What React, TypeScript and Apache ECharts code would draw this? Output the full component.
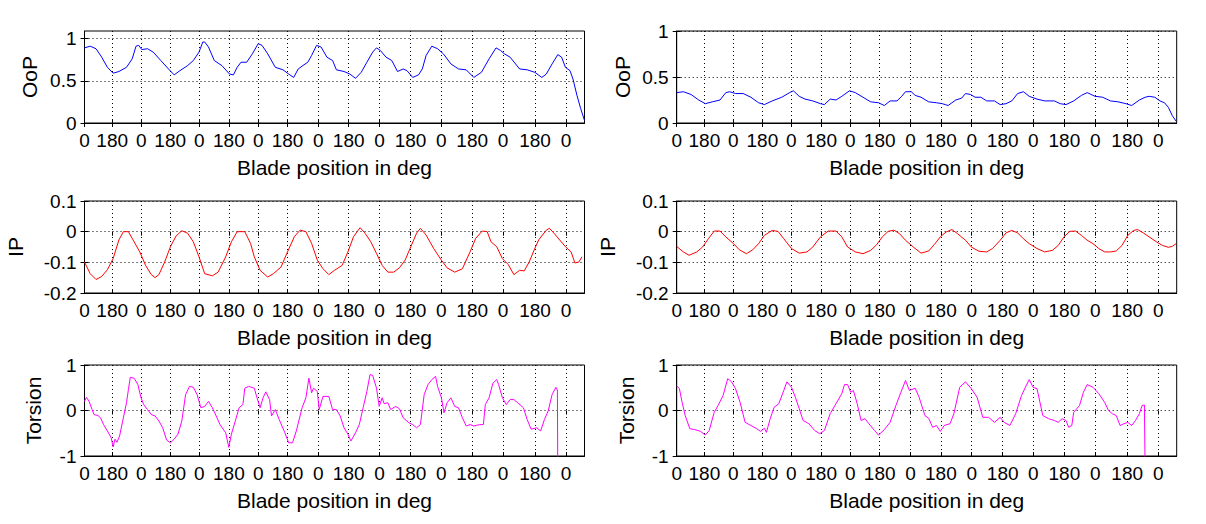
import React, { useEffect, useRef } from "react";
import * as echarts from "echarts";

// x axis: time-like sample position; ticks mark blade azimuth 0 / 180 deg
const X_MAX = 5;
const TICKS = [0, 0.277, 0.567, 0.857, 1.147, 1.444, 1.737, 2.03, 2.338, 2.642, 2.95, 3.26, 3.567, 3.877, 4.185, 4.505, 4.815];
const TICK_LABELS = ["0", "180", "0", "180", "0", "180", "0", "180", "0", "180", "0", "180", "0", "180", "0", "180", "0"];
const X_NAME = "Blade position in deg";

const OOP_TICKS = [0, 0.5, 1];
const IP_TICKS = [-0.2, -0.1, 0, 0.1];
const TOR_TICKS = [-1, 0, 1];

const OOP_LEFT: [number, number][] = [
  [0.0, 0.89], [0.057, 0.91], [0.115, 0.88], [0.172, 0.78], [0.229, 0.66], [0.286, 0.59], [0.344, 0.61], [0.42, 0.66],
  [0.477, 0.76], [0.515, 0.91], [0.542, 0.92], [0.573, 0.87], [0.63, 0.88], [0.687, 0.84], [0.763, 0.74], [0.84, 0.64],
  [0.897, 0.57], [0.954, 0.62], [1.031, 0.68], [1.088, 0.74], [1.145, 0.84], [1.183, 0.96], [1.202, 0.96], [1.24, 0.9],
  [1.298, 0.74], [1.374, 0.68], [1.45, 0.58], [1.489, 0.57], [1.527, 0.66], [1.565, 0.72], [1.622, 0.72], [1.679, 0.82],
  [1.737, 0.94], [1.775, 0.92], [1.832, 0.82], [1.908, 0.66], [1.985, 0.63], [2.042, 0.58], [2.092, 0.54], [2.137, 0.64],
  [2.195, 0.69], [2.233, 0.72], [2.271, 0.8], [2.321, 0.92], [2.366, 0.9], [2.424, 0.78], [2.481, 0.74], [2.519, 0.63],
  [2.595, 0.61], [2.653, 0.58], [2.71, 0.53], [2.767, 0.6], [2.824, 0.72], [2.882, 0.84], [2.92, 0.89], [2.958, 0.86],
  [3.015, 0.78], [3.073, 0.74], [3.13, 0.61], [3.187, 0.64], [3.225, 0.62], [3.282, 0.54], [3.34, 0.57], [3.378, 0.64],
  [3.416, 0.8], [3.473, 0.91], [3.531, 0.88], [3.588, 0.82], [3.664, 0.7], [3.74, 0.64], [3.817, 0.63], [3.893, 0.54],
  [3.969, 0.6], [4.046, 0.76], [4.115, 0.89], [4.16, 0.86], [4.198, 0.82], [4.256, 0.78], [4.351, 0.64], [4.427, 0.63],
  [4.504, 0.6], [4.573, 0.54], [4.618, 0.58], [4.676, 0.7], [4.733, 0.81], [4.771, 0.78], [4.809, 0.66], [4.855, 0.62],
  [4.885, 0.52], [4.924, 0.33], [4.962, 0.17], [5.0, 0.03],
];
const OOP_LEFT_MAX = 1.09;

const OOP_RIGHT: [number, number][] = [
  [0.0, 0.33], [0.066, 0.34], [0.143, 0.31], [0.22, 0.25], [0.286, 0.21], [0.356, 0.23], [0.433, 0.25], [0.491, 0.33],
  [0.53, 0.34], [0.588, 0.32], [0.665, 0.32], [0.742, 0.28], [0.819, 0.22], [0.877, 0.2], [0.955, 0.24], [1.051, 0.28],
  [1.129, 0.33], [1.167, 0.35], [1.225, 0.29], [1.283, 0.26], [1.361, 0.24], [1.438, 0.21], [1.477, 0.2], [1.535, 0.26],
  [1.593, 0.25], [1.651, 0.29], [1.728, 0.35], [1.786, 0.33], [1.863, 0.28], [1.94, 0.23], [2.018, 0.22], [2.076, 0.19],
  [2.134, 0.24], [2.203, 0.24], [2.25, 0.29], [2.288, 0.34], [2.346, 0.34], [2.385, 0.3], [2.443, 0.28], [2.52, 0.23],
  [2.598, 0.22], [2.656, 0.21], [2.714, 0.19], [2.791, 0.25], [2.849, 0.27], [2.888, 0.32], [2.938, 0.31], [2.984, 0.28],
  [3.042, 0.28], [3.1, 0.24], [3.177, 0.24], [3.235, 0.2], [3.293, 0.21], [3.351, 0.24], [3.409, 0.32], [3.467, 0.34],
  [3.525, 0.29], [3.603, 0.26], [3.68, 0.24], [3.777, 0.24], [3.835, 0.21], [3.893, 0.2], [3.97, 0.24], [4.047, 0.3],
  [4.105, 0.33], [4.183, 0.29], [4.26, 0.28], [4.337, 0.24], [4.414, 0.23], [4.492, 0.21], [4.55, 0.19], [4.627, 0.25],
  [4.685, 0.28], [4.724, 0.29], [4.782, 0.28], [4.832, 0.24], [4.878, 0.22], [4.917, 0.17], [4.956, 0.08], [4.994, 0.02],
];

const IP_LEFT: [number, number][] = [
  [0.0, -0.099], [0.057, -0.137], [0.115, -0.156], [0.172, -0.146], [0.229, -0.124], [0.286, -0.088], [0.344, -0.027],
  [0.389, 0.0], [0.439, 0.0], [0.496, -0.033], [0.553, -0.066], [0.611, -0.11], [0.668, -0.14], [0.706, -0.15],
  [0.744, -0.14], [0.802, -0.099], [0.859, -0.049], [0.916, -0.014], [0.973, 0.003], [1.031, -0.005], [1.088, -0.033],
  [1.145, -0.082], [1.202, -0.137], [1.279, -0.144], [1.336, -0.132], [1.412, -0.082], [1.469, -0.033], [1.527, 0.0],
  [1.603, 0.0], [1.66, -0.038], [1.698, -0.082], [1.756, -0.126], [1.832, -0.148], [1.889, -0.137], [1.966, -0.115],
  [2.023, -0.071], [2.099, -0.016], [2.156, 0.005], [2.214, 0.0], [2.271, -0.038], [2.328, -0.093], [2.385, -0.121],
  [2.443, -0.14], [2.5, -0.126], [2.576, -0.11], [2.634, -0.066], [2.691, -0.016], [2.756, 0.013], [2.805, -0.005],
  [2.863, -0.033], [2.92, -0.071], [2.977, -0.11], [3.034, -0.132], [3.092, -0.132], [3.149, -0.118], [3.206, -0.093],
  [3.263, -0.049], [3.321, -0.005], [3.359, 0.011], [3.416, -0.011], [3.492, -0.055], [3.569, -0.093], [3.626, -0.118],
  [3.702, -0.132], [3.779, -0.121], [3.855, -0.066], [3.912, -0.022], [3.977, 0.002], [4.027, 0.0], [4.065, -0.033],
  [4.122, -0.049], [4.179, -0.088], [4.237, -0.107], [4.294, -0.14], [4.351, -0.126], [4.397, -0.128], [4.447, -0.099],
  [4.496, -0.06], [4.542, -0.027], [4.618, 0.005], [4.649, 0.011], [4.695, -0.005], [4.752, -0.027], [4.809, -0.049],
  [4.866, -0.066], [4.904, -0.102], [4.943, -0.099], [4.975, -0.082],
];

const IP_RIGHT: [number, number][] = [
  [0.0, -0.048], [0.066, -0.066], [0.124, -0.077], [0.201, -0.066], [0.259, -0.05], [0.317, -0.023], [0.375, 0.002],
  [0.433, 0.002], [0.491, -0.017], [0.568, -0.039], [0.626, -0.059], [0.696, -0.072], [0.761, -0.059], [0.819, -0.039],
  [0.877, -0.012], [0.955, 0.004], [1.013, 0.001], [1.071, -0.023], [1.148, -0.055], [1.225, -0.07], [1.303, -0.066],
  [1.361, -0.05], [1.438, -0.017], [1.515, 0.002], [1.593, 0.002], [1.651, -0.017], [1.709, -0.05], [1.786, -0.066],
  [1.863, -0.072], [1.94, -0.061], [1.998, -0.043], [2.056, -0.017], [2.114, 0.001], [2.172, 0.005], [2.23, -0.007],
  [2.288, -0.028], [2.366, -0.05], [2.443, -0.07], [2.52, -0.063], [2.578, -0.041], [2.636, -0.017], [2.694, -0.001],
  [2.752, 0.007], [2.81, -0.007], [2.888, -0.028], [2.946, -0.05], [3.023, -0.064], [3.1, -0.066], [3.158, -0.055],
  [3.235, -0.028], [3.293, -0.004], [3.351, 0.004], [3.409, -0.004], [3.467, -0.023], [3.525, -0.039], [3.603, -0.055],
  [3.68, -0.066], [3.757, -0.061], [3.815, -0.045], [3.873, -0.017], [3.931, 0.001], [3.989, 0.002], [4.047, -0.012],
  [4.105, -0.028], [4.163, -0.039], [4.221, -0.055], [4.279, -0.066], [4.337, -0.066], [4.395, -0.063], [4.453, -0.045],
  [4.511, -0.012], [4.569, 0.004], [4.608, 0.007], [4.666, -0.004], [4.724, -0.017], [4.801, -0.034], [4.859, -0.045],
  [4.917, -0.051], [4.956, -0.048], [4.994, -0.039],
];

const TOR_LEFT: [number, number][] = [
  [0.0, 0.2], [0.019, 0.29], [0.046, 0.2], [0.076, 0.02], [0.095, -0.09], [0.134, -0.11], [0.16, -0.16], [0.191, -0.31],
  [0.229, -0.45], [0.267, -0.6], [0.286, -0.8], [0.305, -0.63], [0.324, -0.7], [0.351, -0.56], [0.382, -0.23], [0.42, 0.17],
  [0.439, 0.46], [0.458, 0.73], [0.496, 0.71], [0.534, 0.57], [0.565, 0.28], [0.592, 0.13], [0.63, 0.02], [0.668, -0.09],
  [0.706, -0.12], [0.744, -0.23], [0.782, -0.38], [0.821, -0.65], [0.859, -0.71], [0.897, -0.63], [0.935, -0.52],
  [0.973, -0.23], [1.011, 0.35], [1.05, 0.53], [1.088, 0.51], [1.126, 0.35], [1.164, 0.06], [1.202, 0.09], [1.24, 0.2],
  [1.279, 0.06], [1.317, -0.12], [1.355, -0.31], [1.412, -0.49], [1.443, -0.81], [1.469, -0.52], [1.508, -0.23],
  [1.546, 0.06], [1.584, 0.13], [1.603, 0.49], [1.641, 0.53], [1.698, 0.49], [1.725, 0.28], [1.756, 0.06], [1.786, 0.28],
  [1.813, 0.41], [1.851, 0.24], [1.87, -0.12], [1.908, 0.02], [1.947, -0.2], [2.004, -0.49], [2.042, -0.71], [2.08, -0.71],
  [2.118, -0.45], [2.176, 0.06], [2.214, 0.28], [2.244, 0.71], [2.271, 0.39], [2.29, 0.49], [2.328, 0.42], [2.347, 0.02],
  [2.385, 0.31], [2.443, 0.31], [2.481, 0.02], [2.519, 0.02], [2.557, -0.12], [2.595, -0.38], [2.634, -0.52], [2.664, -0.67],
  [2.71, -0.49], [2.748, -0.31], [2.786, 0.06], [2.824, 0.42], [2.855, 0.79], [2.882, 0.77], [2.92, 0.49], [2.947, 0.09],
  [2.977, 0.28], [2.996, 0.15], [3.034, 0.17], [3.061, 0.02], [3.111, 0.09], [3.149, 0.04], [3.187, -0.16], [3.244, -0.27],
  [3.282, -0.31], [3.321, -0.38], [3.359, -0.31], [3.397, 0.35], [3.435, 0.57], [3.473, 0.68], [3.511, 0.75], [3.531, 0.53],
  [3.569, 0.28], [3.595, -0.05], [3.626, 0.17], [3.664, 0.28], [3.702, 0.09], [3.74, 0.06], [3.779, -0.16], [3.817, -0.34],
  [3.855, -0.31], [3.893, -0.34], [3.95, -0.31], [3.989, -0.31], [4.008, 0.13], [4.046, 0.28], [4.084, 0.6], [4.122, 0.68],
  [4.141, 0.57], [4.179, 0.28], [4.218, 0.13], [4.256, 0.24], [4.294, 0.24], [4.332, 0.17], [4.389, 0.06], [4.427, -0.2],
  [4.466, -0.41], [4.523, -0.38], [4.561, -0.45], [4.599, -0.2], [4.637, -0.01], [4.676, 0.35], [4.714, 0.51],
  [4.729, 0.45], [4.733, -1.5],
];

const TOR_RIGHT: [number, number][] = [
  [0.0, 0.54], [0.027, 0.48], [0.054, 0.18], [0.085, -0.11], [0.131, -0.4], [0.182, -0.42], [0.24, -0.46], [0.286, -0.54],
  [0.325, -0.44], [0.375, -0.04], [0.414, 0.11], [0.464, 0.33], [0.51, 0.7], [0.549, 0.63], [0.588, 0.48], [0.634, 0.18],
  [0.684, -0.26], [0.742, -0.33], [0.8, -0.4], [0.839, -0.46], [0.877, -0.39], [0.897, -0.48], [0.935, -0.18], [0.974, 0.07],
  [1.021, 0.15], [1.071, 0.44], [1.102, 0.63], [1.148, 0.51], [1.187, 0.29], [1.225, 0.04], [1.264, -0.22], [1.322, -0.29],
  [1.38, -0.44], [1.43, -0.51], [1.477, -0.44], [1.535, -0.07], [1.593, 0.15], [1.651, 0.37], [1.678, 0.57], [1.709, 0.57],
  [1.74, 0.4], [1.767, 0.44], [1.805, 0.15], [1.844, -0.22], [1.883, -0.18], [1.921, -0.29], [1.979, -0.44], [2.018, -0.54],
  [2.076, -0.42], [2.134, -0.26], [2.192, 0.11], [2.242, 0.4], [2.288, 0.66], [2.327, 0.44], [2.385, 0.49], [2.424, 0.29],
  [2.482, -0.11], [2.52, -0.17], [2.559, -0.37], [2.598, -0.33], [2.636, -0.46], [2.675, -0.33], [2.733, -0.29], [2.772, -0.07],
  [2.83, 0.51], [2.888, 0.63], [2.946, 0.48], [3.004, 0.29], [3.061, -0.15], [3.119, -0.15], [3.177, -0.26], [3.235, -0.15],
  [3.274, -0.26], [3.332, -0.33], [3.39, -0.07], [3.448, 0.33], [3.487, 0.51], [3.525, 0.68], [3.564, 0.51], [3.603, 0.48],
  [3.661, -0.11], [3.719, -0.18], [3.777, -0.22], [3.815, -0.26], [3.854, -0.18], [3.893, -0.22], [3.92, -0.37], [3.951, -0.33],
  [3.97, -0.04], [4.028, 0.11], [4.067, 0.4], [4.105, 0.57], [4.163, 0.51], [4.221, 0.37], [4.279, 0.18], [4.318, 0.0],
  [4.356, -0.07], [4.395, -0.11], [4.434, -0.33], [4.472, -0.29], [4.511, -0.26], [4.55, -0.33], [4.588, -0.22], [4.627, -0.07],
  [4.654, 0.11], [4.677, 0.12], [4.685, -1.5],
];

const FONT = "'Liberation Sans', Arial, Helvetica, sans-serif";
const FS_TICK = 19;
const FS_NAME = 21;

type Panel = {
  col: number; row: number; data: [number, number][]; color: string;
  yMin: number; yMax: number; yTicks: number[]; name: string; nameGap: number;
};

const PANELS: Panel[] = [
  { col: 0, row: 0, data: OOP_LEFT, color: "#0000ff", yMin: 0, yMax: OOP_LEFT_MAX, yTicks: OOP_TICKS, name: "OoP", nameGap: 45 },
  { col: 1, row: 0, data: OOP_RIGHT, color: "#0000ff", yMin: 0, yMax: 1, yTicks: OOP_TICKS, name: "OoP", nameGap: 44 },
  { col: 0, row: 1, data: IP_LEFT, color: "#ff0000", yMin: -0.2, yMax: 0.1, yTicks: IP_TICKS, name: "IP", nameGap: 59 },
  { col: 1, row: 1, data: IP_RIGHT, color: "#ff0000", yMin: -0.2, yMax: 0.1, yTicks: IP_TICKS, name: "IP", nameGap: 59 },
  { col: 0, row: 2, data: TOR_LEFT, color: "#ff00ff", yMin: -1, yMax: 1, yTicks: TOR_TICKS, name: "Torsion", nameGap: 41 },
  { col: 1, row: 2, data: TOR_RIGHT, color: "#ff00ff", yMin: -1, yMax: 1, yTicks: TOR_TICKS, name: "Torsion", nameGap: 40 },
];

const COL_LEFT = [84.5, 676.7];
const PLOT_W = 500;
const ROW_TOP = [31, 201, 365];
const ROW_H = [92, 92, 91];

function tickLabel(v: number): string {
  let best = 0;
  for (let i = 1; i < TICKS.length; i++) {
    if (Math.abs(TICKS[i] - v) < Math.abs(TICKS[best] - v)) best = i;
  }
  return TICK_LABELS[best];
}

function buildOption() {
  const grid: any[] = [];
  const xAxis: any[] = [];
  const yAxis: any[] = [];
  const series: any[] = [];
  const dotted = { color: "#000", width: 1, type: [1, 3] };
  PANELS.forEach((p, i) => {
    grid.push({
      left: COL_LEFT[p.col], top: ROW_TOP[p.row], width: PLOT_W, height: ROW_H[p.row],
      show: true, borderColor: "#000", borderWidth: 1, backgroundColor: "transparent",
      outerBoundsMode: "none", containLabel: false,
    });
    xAxis.push({
      type: "value", gridIndex: i, min: 0, max: X_MAX, position: "bottom",
      name: X_NAME, nameLocation: "middle", nameGap: 34,
      nameTextStyle: { fontFamily: FONT, fontSize: FS_NAME, color: "#000" },
      axisLine: { show: true, onZero: false, lineStyle: { color: "#000", width: 1 } },
      axisTick: { show: true, inside: true, length: 4, customValues: TICKS, lineStyle: { color: "#000" } },
      axisLabel: { show: true, customValues: TICKS, formatter: (v: number) => tickLabel(v), margin: 8,
        fontFamily: FONT, fontSize: FS_TICK, color: "#000" },
      splitLine: { show: true, lineStyle: dotted },
    });
    xAxis.push({
      type: "value", gridIndex: i, min: 0, max: X_MAX, position: "top",
      axisLine: { show: false },
      axisTick: { show: true, inside: true, length: 4, customValues: TICKS, lineStyle: { color: "#000" } },
      axisLabel: { show: false }, splitLine: { show: false },
    });
    yAxis.push({
      type: "value", gridIndex: i, min: p.yMin, max: p.yMax, position: "left",
      name: p.name, nameLocation: "middle", nameGap: p.nameGap, nameRotate: 90,
      nameTextStyle: { fontFamily: FONT, fontSize: FS_NAME, color: "#000" },
      axisLine: { show: true, onZero: false, lineStyle: { color: "#000", width: 1 } },
      axisTick: { show: true, inside: true, length: 4, customValues: p.yTicks, lineStyle: { color: "#000" } },
      axisLabel: { show: true, customValues: p.yTicks, margin: 8,
        formatter: (v: number) => String(Number(v.toFixed(2))),
        fontFamily: FONT, fontSize: FS_TICK, color: "#000" },
      splitLine: { show: true, lineStyle: dotted },
    });
    yAxis.push({
      type: "value", gridIndex: i, min: p.yMin, max: p.yMax, position: "right",
      axisLine: { show: false },
      axisTick: { show: true, inside: true, length: 4, customValues: p.yTicks, lineStyle: { color: "#000" } },
      axisLabel: { show: false }, splitLine: { show: false },
    });
    series.push({
      type: "line", xAxisIndex: 2 * i, yAxisIndex: 2 * i, data: p.data,
      showSymbol: false, symbol: "none", clip: true, silent: true,
      lineStyle: { color: p.color, width: 1 }, itemStyle: { color: p.color },
    });
  });
  return { animation: false, backgroundColor: "#fff", grid, xAxis, yAxis, series };
}

export default function App() {
  const ref = useRef<HTMLDivElement>(null);
  useEffect(() => {
    if (!ref.current) return;
    const chart = echarts.init(ref.current, null, { renderer: "svg" });
    chart.setOption(buildOption() as any);
    return () => chart.dispose();
  }, []);
  return (
    <div
      ref={ref}
      style={{ position: "absolute", left: 0, top: 0, width: 1206, height: 524, background: "#fff" }}
    />
  );
}
